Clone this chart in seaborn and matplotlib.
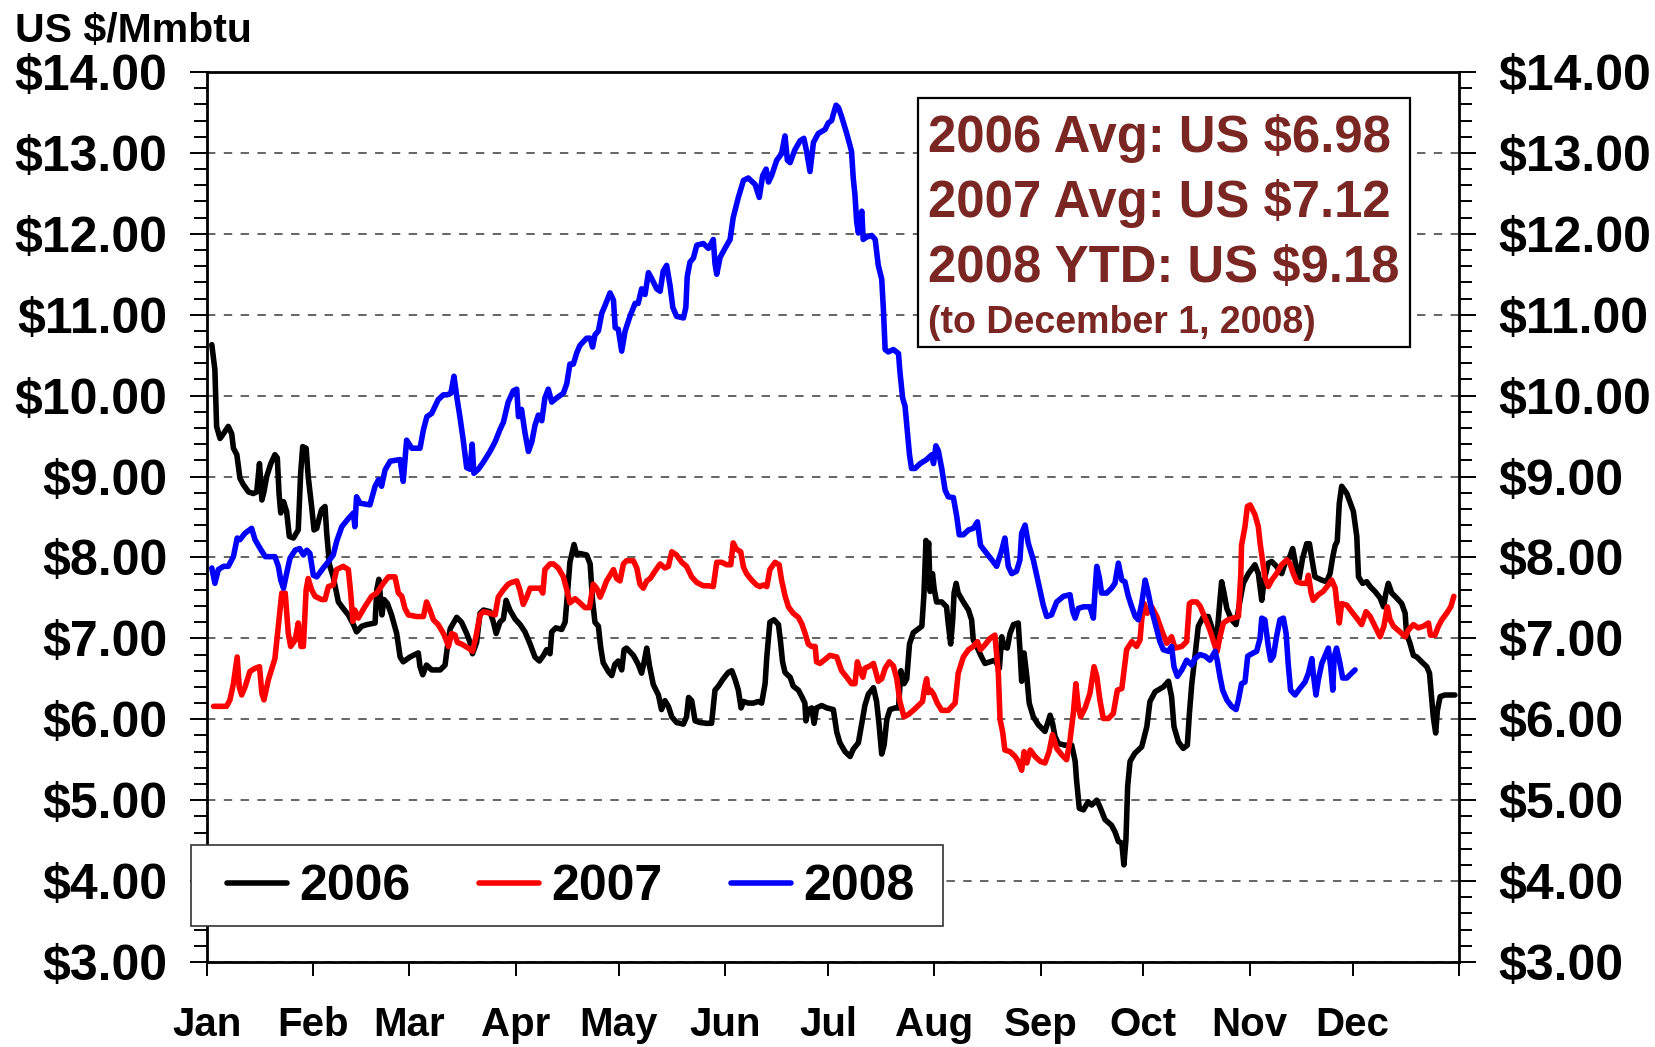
import numpy as np
import pandas as pd
import matplotlib
matplotlib.use("Agg")
import matplotlib.pyplot as plt
from matplotlib.patches import Rectangle
from matplotlib.ticker import MultipleLocator, FixedLocator, FuncFormatter
import seaborn as sns

# (day of year, US $/Mmbtu)
gas_2006 = [
    (1.4, 10.63), (2.3, 10.32), (2.8, 9.62), (3.8, 9.47), (4.8, 9.53), (6.2, 9.62), (7.2, 9.53),
    (7.7, 9.35), (8.7, 9.27), (9.6, 8.98), (10.6, 8.90), (12.1, 8.81), (13.5, 8.79), (14.5, 8.81),
    (15.3, 9.16), (16.0, 8.71), (16.6, 8.81), (17.4, 9.00), (18.6, 9.16), (19.8, 9.27), (20.5, 9.23),
    (21.0, 8.79), (21.5, 8.55), (22.3, 8.69), (23.2, 8.57), (24.0, 8.26), (25.2, 8.24), (26.6, 8.34),
    (27.3, 9.04), (27.9, 9.37), (28.9, 9.35), (29.5, 9.00), (30.5, 8.63), (31.2, 8.34), (32.0, 8.36),
    (32.8, 8.50), (33.4, 8.59), (34.4, 8.63), (34.9, 8.30), (35.7, 7.91), (36.8, 7.76), (38.3, 7.45),
    (39.7, 7.37), (41.2, 7.29), (42.7, 7.17), (43.6, 7.08), (45.1, 7.15), (46.6, 7.17), (49.0, 7.19),
    (49.5, 7.60), (50.1, 7.73), (51.0, 7.29), (51.6, 7.48), (52.6, 7.43), (53.8, 7.29), (55.3, 7.06),
    (56.3, 6.77), (57.2, 6.71), (59.2, 6.77), (61.6, 6.82), (62.1, 6.65), (62.9, 6.55), (64.0, 6.67),
    (65.5, 6.61), (68.0, 6.61), (69.4, 6.67), (70.1, 6.90), (70.9, 7.12), (72.8, 7.26), (74.2, 7.20),
    (75.7, 7.06), (76.7, 6.95), (77.4, 6.81), (78.6, 6.95), (79.6, 7.31), (80.6, 7.35), (82.5, 7.33),
    (83.5, 7.20), (84.3, 7.06), (85.4, 7.20), (86.4, 7.24), (87.2, 7.47), (88.3, 7.35), (89.8, 7.24),
    (91.3, 7.17), (92.7, 7.08), (94.2, 6.93), (95.6, 6.77), (96.9, 6.72), (98.1, 6.79), (99.0, 6.86),
    (100.0, 6.81), (100.5, 7.08), (101.7, 7.13), (103.4, 7.11), (104.4, 7.20), (105.1, 7.56),
    (105.8, 7.94), (107.0, 8.16), (107.8, 8.03), (108.7, 8.05), (110.7, 8.03), (111.7, 7.92),
    (112.4, 7.47), (113.1, 7.20), (114.1, 7.15), (114.8, 6.88), (115.5, 6.70), (117.0, 6.59),
    (118.0, 6.54), (118.9, 6.68), (119.9, 6.72), (120.9, 6.61), (121.6, 6.86), (122.3, 6.88),
    (124.3, 6.79), (125.7, 6.68), (126.7, 6.57), (127.4, 6.70), (128.2, 6.88), (129.0, 6.66),
    (130.1, 6.43), (131.6, 6.30), (132.5, 6.12), (133.5, 6.23), (134.5, 6.16), (135.5, 6.03),
    (136.9, 5.96), (138.9, 5.94), (139.8, 6.03), (140.4, 6.27), (141.3, 6.23), (142.3, 5.98),
    (143.7, 5.96), (145.7, 5.95), (147.1, 5.95), (148.1, 6.36), (149.1, 6.41), (150.5, 6.50),
    (152.0, 6.58), (153.0, 6.60), (153.9, 6.50), (154.9, 6.36), (155.7, 6.14), (156.4, 6.22),
    (157.8, 6.20), (159.3, 6.20), (160.7, 6.22), (161.7, 6.20), (162.7, 6.44), (163.2, 6.77),
    (164.1, 7.20), (165.3, 7.23), (166.6, 7.17), (167.2, 6.96), (167.8, 6.71), (168.5, 6.58),
    (169.2, 6.55), (170.0, 6.52), (170.9, 6.41), (172.4, 6.36), (173.4, 6.28), (174.3, 6.20),
    (174.6, 5.98), (175.3, 6.12), (176.3, 6.14), (177.0, 5.95), (177.7, 6.14), (179.2, 6.17),
    (180.7, 6.14), (182.6, 6.12), (183.6, 5.84), (184.5, 5.71), (186.0, 5.60), (187.5, 5.54),
    (188.4, 5.63), (189.9, 5.71), (190.9, 5.95), (191.8, 6.17), (192.8, 6.31), (194.3, 6.39),
    (195.2, 6.22), (195.9, 5.95), (196.7, 5.57), (197.4, 5.68), (198.2, 6.00), (199.1, 6.12),
    (200.6, 6.14), (201.6, 6.14), (202.3, 6.60), (203.2, 6.44), (204.0, 6.50), (204.8, 6.93),
    (205.9, 7.07), (208.4, 7.15), (209.0, 7.53), (209.6, 8.21), (210.0, 8.07), (210.4, 8.18),
    (210.8, 7.58), (211.5, 7.80), (212.0, 7.61), (212.7, 7.45), (214.2, 7.45), (215.6, 7.39),
    (216.1, 7.18), (216.8, 6.93), (217.4, 7.23), (217.8, 7.56), (218.4, 7.68), (219.0, 7.56),
    (220.5, 7.45), (222.0, 7.35), (222.9, 7.23), (223.4, 6.98), (224.4, 6.90), (225.8, 6.77),
    (226.8, 6.69), (228.3, 6.71), (229.7, 6.73), (231.0, 6.63), (231.7, 7.02), (232.3, 6.90),
    (233.3, 6.88), (234.1, 7.06), (235.1, 7.17), (236.5, 7.19), (237.0, 6.86), (237.5, 6.47),
    (238.2, 6.82), (239.0, 6.53), (239.7, 6.20), (240.9, 6.03), (242.4, 5.93), (244.3, 5.85),
    (245.8, 6.05), (246.5, 5.95), (247.2, 5.79), (248.2, 5.70), (250.1, 5.68), (252.1, 5.68),
    (253.1, 5.48), (253.5, 5.25), (254.3, 4.90), (255.5, 4.88), (256.9, 4.98), (257.9, 4.94),
    (259.4, 5.00), (260.3, 4.92), (261.8, 4.76), (263.7, 4.69), (264.7, 4.61), (265.7, 4.49),
    (266.7, 4.47), (267.3, 4.20), (267.9, 4.51), (268.4, 5.17), (269.1, 5.48), (270.5, 5.58),
    (272.5, 5.66), (274.0, 5.91), (274.9, 6.22), (276.4, 6.34), (278.8, 6.40), (280.3, 6.47),
    (281.2, 6.28), (281.9, 5.91), (283.2, 5.72), (284.6, 5.64), (285.8, 5.68), (286.4, 6.07),
    (287.1, 6.44), (288.0, 6.77), (289.0, 7.15), (290.5, 7.27), (291.9, 7.27), (292.9, 7.14),
    (293.9, 6.98), (294.5, 7.06), (295.3, 7.47), (295.8, 7.70), (296.5, 7.56), (297.3, 7.37),
    (298.7, 7.23), (300.0, 7.17), (301.0, 7.43), (302.1, 7.68), (303.6, 7.80), (305.5, 7.91),
    (306.5, 7.80), (307.5, 7.47), (308.2, 7.72), (309.4, 7.93), (310.4, 7.95), (311.8, 7.89),
    (313.3, 7.80), (314.3, 7.93), (315.5, 7.99), (316.5, 8.11), (317.5, 7.89), (318.4, 7.74),
    (319.4, 7.99), (320.6, 8.17), (321.4, 8.17), (322.0, 8.01), (323.0, 7.76), (325.0, 7.72),
    (326.4, 7.70), (327.4, 7.80), (328.2, 8.01), (328.9, 8.15), (329.5, 8.20), (330.1, 8.67),
    (330.8, 8.88), (332.3, 8.79), (334.2, 8.57), (335.2, 8.26), (335.7, 7.76), (336.9, 7.68),
    (338.1, 7.70), (339.1, 7.64), (340.5, 7.58), (342.0, 7.50), (343.0, 7.39), (343.7, 7.56),
    (344.4, 7.68), (345.4, 7.56), (346.8, 7.50), (348.3, 7.43), (349.3, 7.31), (349.7, 7.06),
    (350.7, 6.94), (351.7, 6.79), (352.7, 6.77), (354.1, 6.71), (355.6, 6.65), (356.4, 6.57),
    (357.0, 6.28), (357.5, 6.03), (358.2, 5.83), (358.7, 6.11), (359.5, 6.28), (360.9, 6.30),
    (363.8, 6.30),
]

gas_2007 = [
    (1.9, 6.16), (5.7, 6.16), (6.7, 6.24), (7.7, 6.44), (8.8, 6.77), (9.4, 6.40), (10.1, 6.30),
    (11.1, 6.40), (12.5, 6.59), (14.0, 6.63), (15.3, 6.65), (16.0, 6.32), (16.6, 6.24), (17.9, 6.49),
    (19.8, 6.75), (20.8, 7.15), (21.8, 7.56), (22.8, 7.56), (23.7, 7.06), (24.4, 6.90), (25.7, 6.98),
    (26.6, 7.19), (27.4, 6.90), (28.1, 6.90), (28.9, 7.60), (29.5, 7.74), (30.5, 7.60), (31.5, 7.52),
    (33.4, 7.48), (34.4, 7.48), (35.4, 7.64), (36.8, 7.66), (37.8, 7.85), (39.7, 7.89), (41.2, 7.85),
    (41.9, 7.56), (42.5, 7.21), (43.1, 7.35), (44.1, 7.25), (46.0, 7.39), (48.0, 7.52), (49.5, 7.56),
    (51.4, 7.68), (52.9, 7.76), (54.8, 7.76), (55.8, 7.56), (56.8, 7.52), (57.7, 7.37), (58.7, 7.29),
    (61.1, 7.27), (63.1, 7.27), (64.0, 7.45), (65.0, 7.35), (66.0, 7.23), (67.4, 7.17), (68.4, 7.10),
    (69.4, 7.02), (70.4, 6.90), (71.3, 7.06), (72.3, 7.04), (73.0, 6.95), (74.2, 6.93), (76.2, 6.88),
    (77.4, 6.84), (78.4, 7.02), (79.6, 7.29), (80.6, 7.33), (82.5, 7.31), (84.0, 7.29), (84.9, 7.51),
    (86.4, 7.60), (87.8, 7.67), (88.8, 7.69), (90.3, 7.71), (91.2, 7.60), (92.2, 7.42), (93.2, 7.51),
    (94.2, 7.62), (95.6, 7.62), (97.1, 7.62), (97.9, 7.56), (98.5, 7.85), (100.0, 7.92), (101.0, 7.92),
    (102.4, 7.87), (103.9, 7.76), (104.9, 7.60), (105.8, 7.44), (107.3, 7.49), (108.7, 7.44),
    (110.2, 7.38), (111.5, 7.38), (112.6, 7.67), (113.6, 7.62), (114.6, 7.51), (115.5, 7.60),
    (116.5, 7.71), (117.5, 7.78), (118.5, 7.85), (119.4, 7.74), (120.4, 7.71), (121.4, 7.92),
    (122.3, 7.96), (124.3, 7.96), (125.3, 7.87), (126.2, 7.67), (127.2, 7.62), (128.2, 7.71),
    (129.2, 7.74), (130.6, 7.83), (132.1, 7.92), (133.5, 7.87), (134.5, 7.89), (135.5, 8.07),
    (136.9, 8.03), (138.4, 7.94), (139.8, 7.89), (141.3, 7.76), (142.8, 7.69), (144.7, 7.65),
    (146.2, 7.65), (147.6, 7.64), (148.6, 7.94), (150.1, 7.94), (151.5, 7.91), (152.7, 7.91),
    (153.4, 8.18), (154.4, 8.10), (155.6, 8.07), (156.4, 7.88), (157.3, 7.80), (158.8, 7.72),
    (160.2, 7.66), (161.2, 7.64), (162.2, 7.66), (163.2, 7.64), (164.1, 7.85), (165.6, 7.94),
    (166.8, 7.91), (167.5, 7.72), (168.5, 7.53), (169.5, 7.39), (170.9, 7.31), (172.4, 7.26),
    (173.4, 7.18), (174.3, 7.07), (175.3, 6.93), (176.3, 6.90), (177.3, 6.90), (177.7, 6.71),
    (178.7, 6.69), (180.2, 6.74), (181.6, 6.79), (183.6, 6.77), (185.0, 6.60), (186.5, 6.52),
    (187.9, 6.44), (188.9, 6.44), (189.6, 6.71), (190.4, 6.60), (191.2, 6.52), (191.8, 6.63),
    (193.3, 6.66), (194.3, 6.69), (195.0, 6.58), (195.7, 6.47), (196.7, 6.50), (197.7, 6.63),
    (198.9, 6.71), (200.1, 6.66), (201.1, 6.50), (202.0, 6.22), (203.2, 6.03), (204.5, 6.06),
    (205.9, 6.11), (207.4, 6.17), (208.6, 6.22), (209.3, 6.41), (209.8, 6.50), (210.3, 6.33),
    (211.0, 6.36), (211.8, 6.31), (212.9, 6.20), (214.2, 6.11), (216.1, 6.11), (218.1, 6.20),
    (219.0, 6.57), (220.5, 6.77), (222.0, 6.86), (223.4, 6.90), (224.6, 6.96), (225.5, 6.86),
    (226.8, 6.92), (228.3, 7.00), (229.7, 7.04), (230.7, 6.57), (231.2, 6.00), (232.0, 5.83),
    (232.6, 5.62), (234.1, 5.60), (235.6, 5.54), (236.5, 5.48), (237.5, 5.37), (238.2, 5.60),
    (239.0, 5.46), (240.0, 5.62), (241.4, 5.54), (242.9, 5.48), (244.3, 5.46), (245.5, 5.60),
    (246.5, 5.81), (247.7, 5.64), (249.2, 5.56), (250.6, 5.50), (251.6, 5.74), (252.6, 6.09),
    (253.3, 6.44), (254.0, 6.16), (254.7, 6.03), (256.0, 6.14), (257.4, 6.32), (258.6, 6.65),
    (259.4, 6.53), (260.3, 6.24), (261.3, 6.01), (262.8, 6.01), (264.2, 6.07), (265.4, 6.36),
    (266.7, 6.38), (268.1, 6.86), (269.6, 6.96), (271.0, 6.90), (272.0, 6.98), (272.5, 7.23),
    (273.2, 7.43), (274.1, 7.31), (275.4, 7.39), (276.9, 7.27), (278.3, 7.10), (279.8, 6.94),
    (281.2, 7.02), (282.2, 6.88), (284.2, 6.90), (285.6, 6.96), (286.4, 7.43), (287.1, 7.45),
    (288.5, 7.45), (289.5, 7.40), (291.0, 7.25), (292.4, 7.10), (293.9, 6.90), (294.5, 6.84),
    (295.3, 7.02), (296.3, 7.19), (297.7, 7.23), (299.2, 7.25), (300.7, 7.27), (301.4, 7.80),
    (301.6, 8.15), (302.6, 8.38), (303.3, 8.63), (304.1, 8.65), (305.5, 8.53), (306.5, 8.38),
    (307.0, 8.18), (307.7, 7.97), (308.4, 7.76), (309.4, 7.64), (310.4, 7.72), (311.8, 7.80),
    (313.3, 7.91), (314.8, 7.97), (315.7, 7.93), (316.7, 7.80), (317.7, 7.70), (319.1, 7.68),
    (320.6, 7.68), (321.1, 7.78), (321.9, 7.56), (322.5, 7.47), (324.0, 7.54), (325.4, 7.58),
    (326.9, 7.66), (327.9, 7.72), (328.9, 7.62), (329.5, 7.39), (330.1, 7.19), (330.8, 7.43),
    (332.3, 7.41), (333.7, 7.33), (335.2, 7.25), (336.6, 7.17), (337.9, 7.33), (339.1, 7.27),
    (340.5, 7.15), (342.0, 7.02), (343.1, 7.15), (344.1, 7.39), (344.9, 7.23), (345.9, 7.15),
    (347.8, 7.08), (349.3, 7.02), (350.2, 7.10), (351.7, 7.17), (353.1, 7.13), (354.6, 7.15),
    (356.1, 7.19), (356.7, 7.04), (358.0, 7.04), (359.0, 7.15), (360.0, 7.23), (361.4, 7.31),
    (362.6, 7.39), (363.5, 7.52),
]

gas_2008 = [
    (1.4, 7.87), (2.3, 7.68), (3.3, 7.85), (4.8, 7.89), (6.2, 7.89), (7.7, 8.01), (8.8, 8.24),
    (9.6, 8.22), (11.1, 8.30), (13.0, 8.36), (14.0, 8.22), (15.5, 8.11), (17.0, 8.01), (18.4, 8.01),
    (19.8, 8.01), (20.8, 7.89), (21.5, 7.72), (22.3, 7.62), (23.2, 7.80), (24.2, 7.99), (25.7, 8.09),
    (27.0, 8.11), (28.1, 8.03), (29.1, 8.09), (30.0, 8.05), (31.0, 7.78), (32.0, 7.76), (33.9, 7.87),
    (35.4, 7.95), (36.8, 8.03), (37.8, 8.20), (39.3, 8.38), (41.2, 8.48), (42.7, 8.55), (43.1, 8.38),
    (43.6, 8.75), (44.6, 8.67), (47.5, 8.65), (49.0, 8.88), (50.0, 8.96), (50.9, 8.88), (51.9, 9.08),
    (53.4, 9.19), (56.3, 9.21), (57.2, 8.94), (58.2, 9.45), (59.7, 9.35), (62.1, 9.35), (63.1, 9.58),
    (64.1, 9.74), (65.5, 9.78), (67.4, 9.95), (68.9, 10.01), (70.0, 10.01), (71.1, 10.03),
    (72.0, 10.24), (72.8, 9.99), (73.8, 9.72), (74.7, 9.45), (75.7, 9.11), (76.7, 9.09), (77.3, 9.40),
    (77.8, 9.04), (79.1, 9.09), (80.6, 9.18), (82.5, 9.31), (84.0, 9.43), (85.4, 9.58), (86.4, 9.67),
    (87.8, 9.92), (89.3, 10.06), (90.3, 10.08), (90.8, 9.74), (91.7, 9.83), (92.7, 9.54), (93.7, 9.31),
    (94.7, 9.43), (95.6, 9.63), (96.6, 9.76), (97.6, 9.69), (98.5, 9.97), (99.5, 10.08), (100.5, 9.92),
    (101.9, 9.97), (103.9, 10.03), (104.9, 10.15), (105.8, 10.39), (106.8, 10.39), (107.8, 10.53),
    (108.7, 10.62), (110.7, 10.71), (111.7, 10.71), (112.4, 10.60), (113.1, 10.75), (114.1, 10.80),
    (115.1, 11.02), (116.0, 11.11), (117.5, 11.27), (118.5, 11.18), (119.0, 10.84), (119.9, 10.82),
    (120.9, 10.55), (121.9, 10.80), (123.3, 10.98), (124.8, 11.14), (125.7, 11.14), (126.7, 11.32),
    (127.7, 11.25), (128.7, 11.52), (129.6, 11.45), (131.1, 11.32), (132.1, 11.29), (133.0, 11.54),
    (134.0, 11.61), (135.0, 11.36), (135.8, 11.09), (136.9, 10.98), (138.9, 10.96), (139.6, 11.09),
    (140.0, 11.47), (140.8, 11.65), (141.8, 11.70), (142.8, 11.86), (144.7, 11.88), (146.2, 11.82),
    (147.6, 11.93), (148.1, 11.63), (148.6, 11.50), (149.6, 11.71), (151.0, 11.82), (152.5, 11.93),
    (153.4, 12.20), (154.9, 12.45), (156.4, 12.66), (157.8, 12.69), (159.8, 12.61), (161.0, 12.45),
    (162.0, 12.72), (163.0, 12.80), (163.7, 12.64), (164.6, 12.72), (166.1, 12.91), (167.5, 12.99),
    (168.5, 13.21), (169.2, 12.91), (170.0, 12.88), (171.4, 13.04), (172.9, 13.15), (174.0, 13.18),
    (174.8, 13.02), (175.8, 12.77), (176.8, 13.13), (178.2, 13.24), (180.2, 13.29), (181.1, 13.37),
    (182.1, 13.40), (182.6, 13.48), (183.4, 13.59), (184.1, 13.56), (185.0, 13.45), (186.5, 13.24),
    (187.9, 13.02), (188.4, 12.69), (188.9, 12.48), (189.4, 12.15), (189.9, 12.01), (190.4, 12.18),
    (190.9, 12.28), (191.3, 11.93), (192.3, 11.96), (193.8, 11.98), (194.8, 11.93), (195.7, 11.61),
    (196.7, 11.44), (197.2, 11.06), (197.7, 10.57), (198.6, 10.54), (200.1, 10.57), (201.6, 10.52),
    (202.0, 10.30), (202.8, 9.97), (203.5, 9.87), (204.2, 9.54), (204.8, 9.27), (205.4, 9.10),
    (206.4, 9.10), (207.9, 9.16), (209.8, 9.21), (211.3, 9.27), (211.8, 9.16), (212.5, 9.38),
    (213.2, 9.32), (214.2, 9.10), (215.2, 8.83), (216.1, 8.75), (217.6, 8.74), (218.6, 8.50),
    (219.3, 8.28), (220.5, 8.28), (222.0, 8.34), (223.4, 8.36), (224.6, 8.44), (225.5, 8.15),
    (227.3, 8.05), (228.8, 7.97), (230.2, 7.89), (231.7, 8.09), (232.6, 8.24), (233.6, 7.89),
    (234.6, 7.80), (236.0, 7.83), (237.0, 7.97), (237.5, 8.30), (238.5, 8.40), (239.4, 8.18),
    (240.9, 7.97), (242.4, 7.68), (243.8, 7.41), (244.8, 7.27), (246.2, 7.29), (247.7, 7.45),
    (249.7, 7.52), (251.6, 7.54), (252.4, 7.33), (253.1, 7.25), (254.0, 7.37), (255.5, 7.39),
    (257.4, 7.39), (258.4, 7.25), (258.9, 7.60), (259.4, 7.89), (260.2, 7.74), (260.8, 7.56),
    (262.3, 7.56), (263.7, 7.62), (264.7, 7.68), (265.7, 7.93), (266.7, 7.72), (267.6, 7.70),
    (268.6, 7.52), (269.6, 7.39), (270.6, 7.27), (271.5, 7.23), (272.5, 7.43), (273.5, 7.72),
    (274.4, 7.56), (275.4, 7.35), (276.4, 7.19), (277.8, 6.96), (278.8, 6.86), (280.3, 6.84),
    (281.2, 6.90), (281.9, 6.65), (282.9, 6.53), (284.2, 6.61), (285.6, 6.73), (287.1, 6.67),
    (288.0, 6.75), (289.5, 6.80), (291.0, 6.78), (292.4, 6.73), (293.9, 6.84), (294.5, 6.73),
    (295.3, 6.53), (296.1, 6.36), (297.3, 6.24), (298.7, 6.16), (300.0, 6.12), (300.7, 6.24),
    (301.6, 6.44), (302.6, 6.46), (303.4, 6.78), (304.6, 6.81), (306.0, 6.84), (307.0, 7.00),
    (307.5, 7.25), (308.4, 7.23), (309.4, 6.90), (310.1, 6.73), (310.9, 6.78), (311.8, 7.02),
    (312.8, 7.23), (313.8, 7.25), (314.6, 7.06), (315.2, 6.69), (315.9, 6.36), (317.2, 6.30),
    (318.6, 6.38), (320.1, 6.46), (321.1, 6.57), (322.1, 6.75), (322.5, 6.57), (323.3, 6.30),
    (324.0, 6.49), (325.0, 6.69), (326.2, 6.81), (326.9, 6.88), (327.6, 6.65), (328.2, 6.36),
    (328.6, 6.77), (329.3, 6.88), (330.1, 6.73), (331.1, 6.51), (332.3, 6.51), (333.7, 6.57),
    (334.7, 6.61),
]

years = ["2006", "2007", "2008"]
line_colors = {"2006": "#000000", "2007": "#ff0000", "2008": "#0000ff"}
month_names = ["Jan", "Feb", "Mar", "Apr", "May", "Jun", "Jul", "Aug", "Sep", "Oct", "Nov", "Dec"]
month_starts = [0, 31, 59, 90, 120, 151, 181, 212, 243, 273, 304, 334, 365]
note_lines = ["2006 Avg: US $6.98", "2007 Avg: US $7.12", "2008 YTD: US $9.18"]
note_small = "(to December 1, 2008)"

frames = []
for yr, pts in zip(years, [gas_2006, gas_2007, gas_2008]):
    arr = np.array(pts)
    frames.append(pd.DataFrame({"day": arr[:, 0], "price": arr[:, 1], "year": yr}))
df = pd.concat(frames, ignore_index=True)

sns.set_style("ticks")
plt.rcParams["font.family"] = ["Liberation Sans", "DejaVu Sans"]
plt.rcParams["font.weight"] = "bold"
for key in ["text.color", "axes.labelcolor", "xtick.color", "ytick.color", "axes.edgecolor"]:
    plt.rcParams[key] = "black"

W, H = 1656, 1047
fig = plt.figure(figsize=(W / 100, H / 100), dpi=100)
ax = fig.add_axes([207 / W, 1 - 962 / H, (1459 - 207) / W, (962 - 72) / H])

sns.lineplot(data=df, x="day", y="price", hue="year", palette=line_colors,
             estimator=None, errorbar=None, ax=ax, legend=True)
# seaborn keeps its own width, so set it on the drawn lines
for ln in ax.get_lines():
    ln.set_linewidth(4.0)
    ln.set_solid_joinstyle("round")
handles, labels = ax.get_legend_handles_labels()
ax.get_legend().remove()

ax.set_xlim(0, 365)
ax.set_ylim(3, 14)
ax.set_xlabel("")
ax.set_ylabel("")

# y axis both sides
ax.yaxis.set_major_locator(MultipleLocator(1))
ax.yaxis.set_minor_locator(MultipleLocator(0.2))
ax.yaxis.set_major_formatter(FuncFormatter(lambda v, _: f"${v:.2f}"))
ax.tick_params(axis="y", which="both", direction="out", left=True, right=True,
               labelleft=True, labelright=True, width=1.4, labelsize=36, pad=16.5,
               colors="black")
ax.tick_params(axis="y", which="major", length=12)
ax.tick_params(axis="y", which="minor", length=9.5)

# x axis: ticks at month boundaries, labels at month starts
ax.xaxis.set_major_locator(FixedLocator(month_starts))
ax.set_xticklabels(month_names + [""])
ax.tick_params(axis="x", which="major", direction="out", length=10, width=1.4,
               labelsize=29, pad=22, colors="black")
ax.tick_params(axis="x", which="minor", bottom=False)

ax.yaxis.grid(True, which="major", color="#3a3a3a", linestyle=(0, (5.5, 5.5)), linewidth=1.1)
ax.xaxis.grid(False)
ax.set_axisbelow(True)
for s in ax.spines.values():
    s.set_visible(True)
    s.set_linewidth(2.0)
    s.set_color("black")

fig.text(15 / W, 1 - 42 / H, "US $/Mmbtu", fontsize=29.5, fontweight="bold",
         ha="left", va="baseline")

# averages box
fig.patches.append(Rectangle((918 / W, 1 - 347 / H), (1410 - 918) / W, (347 - 98) / H,
                             transform=fig.transFigure, facecolor="white",
                             edgecolor="black", linewidth=1.6, zorder=5))
note_color = "#7a2622"
for txt, base in zip(note_lines, [152, 217, 282]):
    fig.text(928 / W, 1 - base / H, txt, fontsize=36.6, fontweight="bold",
             color=note_color, ha="left", va="baseline", zorder=6)
fig.text(928 / W, 1 - 333 / H, note_small, fontsize=27, fontweight="bold",
         color=note_color, ha="left", va="baseline", zorder=6)

# legend box
fig.patches.append(Rectangle((191 / W, 1 - 926 / H), (943 - 191) / W, (926 - 845) / H,
                             transform=fig.transFigure, facecolor="white",
                             edgecolor="#333333", linewidth=1.2, zorder=5))
leg = fig.legend(handles, labels, loc="center left",
                 bbox_to_anchor=(227 / W, 1 - 887 / H), bbox_transform=fig.transFigure,
                 ncol=3, frameon=False, borderpad=0, borderaxespad=0,
                 handlelength=1.2, handletextpad=0.24, columnspacing=1.38,
                 prop={"size": 36, "weight": "bold"})
leg.set_zorder(7)
for ln in leg.get_lines():
    ln.set_linewidth(4.0)
    ln.set_solid_capstyle("round")

fig.savefig("out.png", dpi=100)
